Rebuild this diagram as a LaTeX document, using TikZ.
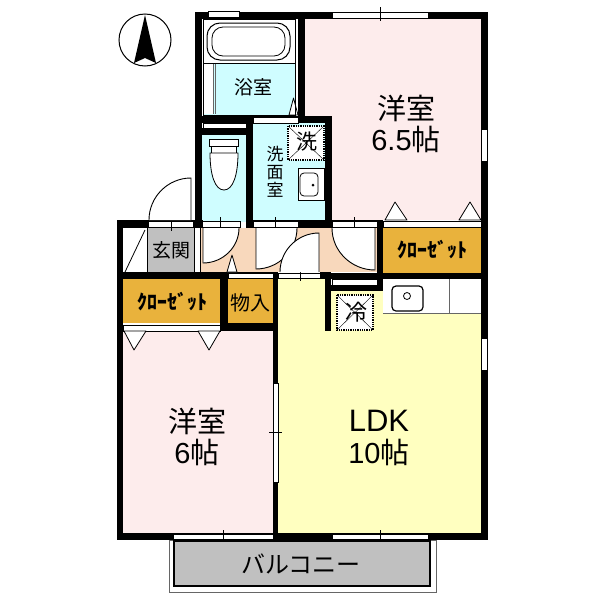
\documentclass[tikz,border=0pt]{standalone}
\usepackage{fontspec}
\newfontfamily\cjk{Noto Sans CJK JP}
\setmainfont{Liberation Sans}
\definecolor{bathblue}{HTML}{CFFDFF}
\definecolor{roompink}{HTML}{FDECEC}
\definecolor{ldkyellow}{HTML}{FFFFC0}
\definecolor{hallpeach}{HTML}{F8D8BC}
\definecolor{closetgold}{HTML}{E9B23C}
\definecolor{floorgray}{HTML}{C0C0C0}
\begin{document}
\begin{tikzpicture}[x=1pt,y=-1pt,
  wall/.style={fill=black},
  sash/.style={fill=white,draw=black,line width=.6pt},
  door leaf/.style={fill=white,draw=black,line width=.9pt},
  fixture/.style={fill=white,draw=black,line width=.8pt},
  marker/.style={fill=white,draw=black,line width=.8pt,line join=round},
  dotted box/.style={draw=black,line width=1.3pt,densely dotted,fill=white},
  big label/.style={font=\cjk\fontsize{29}{32}\selectfont,inner sep=0pt},
  big latin/.style={font=\fontsize{29}{32}\selectfont,inner sep=0pt},
  small label/.style={font=\cjk\fontsize{19}{22}\selectfont,inner sep=0pt},
  closet label/.style={font=\cjk\bfseries\fontsize{20}{22}\selectfont,inner sep=0pt}]

  \useasboundingbox (0,0) rectangle (600,600);

  % floors
  \fill[white] (0,0) rectangle (600,600);
  \fill[bathblue] (203,63) rectangle (295,115);
  \fill[bathblue] (201,135) rectangle (246,222);
  \fill[bathblue] (253,123) rectangle (325,222);
  \fill[roompink] (305,19) rectangle (481,117);
  \fill[roompink] (332,117) rectangle (481,220);
  \fill[roompink] (123,331) rectangle (273,533);
  \fill[ldkyellow] (278,278) rectangle (325,533);
  \fill[ldkyellow] (325,291) rectangle (481,533);
  \fill[hallpeach] (200,228) rectangle (377,272);
  \fill[floorgray] (147,228) rectangle (194,272);
  \fill[closetgold] (383,228) rectangle (481,273);
  \fill[closetgold] (123,279) rectangle (220,323);
  \fill[closetgold] (228,279) rectangle (273,323);

  % walls
  \foreach \xa/\ya/\xb/\yb in {195/12/488/19, 481/12/488/540, 117/533/488/540,
    117/221/123/540, 117/220/203/228, 195/12/202/228, 298/12/305/123,
    195/116/332/123, 201/128/246/135, 246/116/253/228, 325/117/332/228,
    246/220/332/228, 332/220/383/228, 377/220/383/291, 325/273/481/279,
    325/285/383/291, 325/273/331/331, 117/272/278/279, 220/279/228/331,
    220/323/278/331, 273/272/278/540, 320/272/331/279}
    \fill[wall] (\xa,\ya) rectangle (\xb,\yb);

  % windows and sliding doors
  \foreach \xa/\ya/\xb/\yb in {208/11/239/17, 332/12/428/18, 481/129/487/161,
    481/338/487/370, 273/383/278/482, 173/534/273/539, 332/534/428/539,
    253/117/298/123, 203/123/246/128, 148/221/193/227, 202/221/240/227,
    253/221/298/227, 332/221/377/227, 383/221/481/227, 332/279/377/285,
    228/273/273/278, 278/273/320/278, 123/325/220/331}
    \path[sash] (\xa,\ya) rectangle (\xb,\yb);
  \foreach \xt in {171,220,275,354}
    \draw[line width=.7pt] (\xt,217) -- (\xt,231);
  \draw[line width=.7pt] (380,7) -- (380,21);
  \draw[line width=.7pt] (300,272) -- (300,281);
  \draw[line width=.7pt] (223,530) -- (223,544);
  \draw[line width=.7pt] (380,530) -- (380,544);
  \draw[line width=.7pt] (269,432) -- (282,432);

  % balcony
  \draw[line width=.7pt,draw=black!60] (169,540) rectangle (436,592);
  \draw[line width=1.2pt,fill=floorgray] (174,541) rectangle (430,586);

  % doors
  \foreach \cx/\cy/\dx/\dy in {191/220/-42/-42, 203/228/36/35, 256/228/41/41,
    319/272/-39/-39, 375/228/-43/42}
    \path[door leaf,shift={(\cx,\cy)},xscale=\dx,yscale=\dy]
      (0,0) -- (0,1) .. controls (.55,1) and (1,.55) .. (1,0);
  \draw[line width=.8pt] (147,228) -- (147,272);
  \draw[line width=.8pt] (145,230) -- (125,272);
  \draw[line width=.8pt] (194,228) -- (194,272) (200,228) -- (200,272);

  % markers
  \foreach \xa/\xc/\xb/\ya/\yb in {289/293.5/298/115/98, 227/232/237/272/255,
    385/395/407/220/202, 459/470/481/220/202}
    \path[marker] (\xa,\ya) -- (\xc,\yb) -- (\xb,\ya) -- cycle;
  \foreach \xa/\xc/\xb in {124/134/146, 198/209/220}
    \path[marker] (\xa,331) -- (\xc,350) -- (\xb,331) -- cycle;

  % bath
  \draw[line width=.8pt] (203,63) -- (295,63) (203,19) rectangle (295,115);
  \fill[white] (204,64) rectangle (213,114);
  \draw[line width=.6pt,draw=black!60] (213,64) -- (213,114) (215,64) -- (215,114);
  \draw[fixture,rounded corners=13pt,line width=1pt] (207,23) rectangle (290,60);
  \draw[fixture,rounded corners=11pt] (212,27) rectangle (285,56);

  % toilet
  \draw[fixture] (209,139) rectangle (238,146);
  \draw[fixture] (211,146) rectangle (236,153);
  \draw[fixture] (210,153) .. controls (210,175) and (215,190) .. (224,190)
    .. controls (233,190) and (238,175) .. (238,153) -- cycle;

  % wash basin and kitchen
  \draw[fixture] (298,168) rectangle (324,200);
  \draw[fixture,rounded corners=4pt] (300,173) rectangle (318,196);
  \fill (313,185) circle [radius=1.5pt];
  \fill[white] (383,279) rectangle (481,313);
  \draw[line width=.6pt,draw=black!60] (383,313) -- (481,313) (449,279) -- (449,313);
  \draw[fixture,rounded corners=4pt,line width=1.2pt] (392,286) rectangle (423,311);
  \draw[line width=.8pt] (407,296) circle [radius=3.5pt];

  % laundry and fridge spaces
  \draw[dotted box] (288,126) rectangle (324,160);
  \draw[line width=.4pt] (288,126) -- (324,160) (288,160) -- (324,126);
  \draw[dotted box] (337,295) rectangle (373,330);
  \draw[line width=.4pt] (337,295) -- (373,330) (337,330) -- (373,295);

  % compass
  \draw[line width=1pt] (145,40) circle [radius=26pt];
  \fill (145,15) -- (156,63) -- (145,58) -- (134,63) -- cycle;

  % labels
  \node[big label] (western a) at (406,108) {洋室};
  \node[big latin] (size a) at (406,139) {6.5\cjk 帖};
  \node[big label] (western b) at (197,421) {洋室};
  \node[big latin] (size b) at (197,452) {6\cjk 帖};
  \node[big latin,font=\fontsize{31}{34}\selectfont] (ldk) at (379,421) {LDK};
  \node[big latin] (size ldk) at (379,452) {10\cjk 帖};
  \node[small label] (bath) at (253,87) {浴室};
  \node[small label,align=center,font=\cjk\fontsize{17}{18}\selectfont] (wash) at (275,172) {洗\\面\\室};
  \node[small label,font=\cjk\fontsize{21}{24}\selectfont] (washer) at (307,142) {洗};
  \node[small label,font=\cjk\fontsize{22}{24}\selectfont] (fridge) at (356,312) {冷};
  \node[small label] (entry) at (171,250) {玄関};
  \node[small label,font=\cjk\fontsize{20}{24}\selectfont] (storage) at (250,303) {物入};
  \node[closet label] (closet a) at (432,250) {ｸﾛｰｾﾞｯﾄ};
  \node[closet label] (closet b) at (172,302) {ｸﾛｰｾﾞｯﾄ};
  \node[small label,font=\cjk\fontsize{24}{26}\selectfont] (balcony) at (301,564) {バルコニー};
\end{tikzpicture}
\end{document}
